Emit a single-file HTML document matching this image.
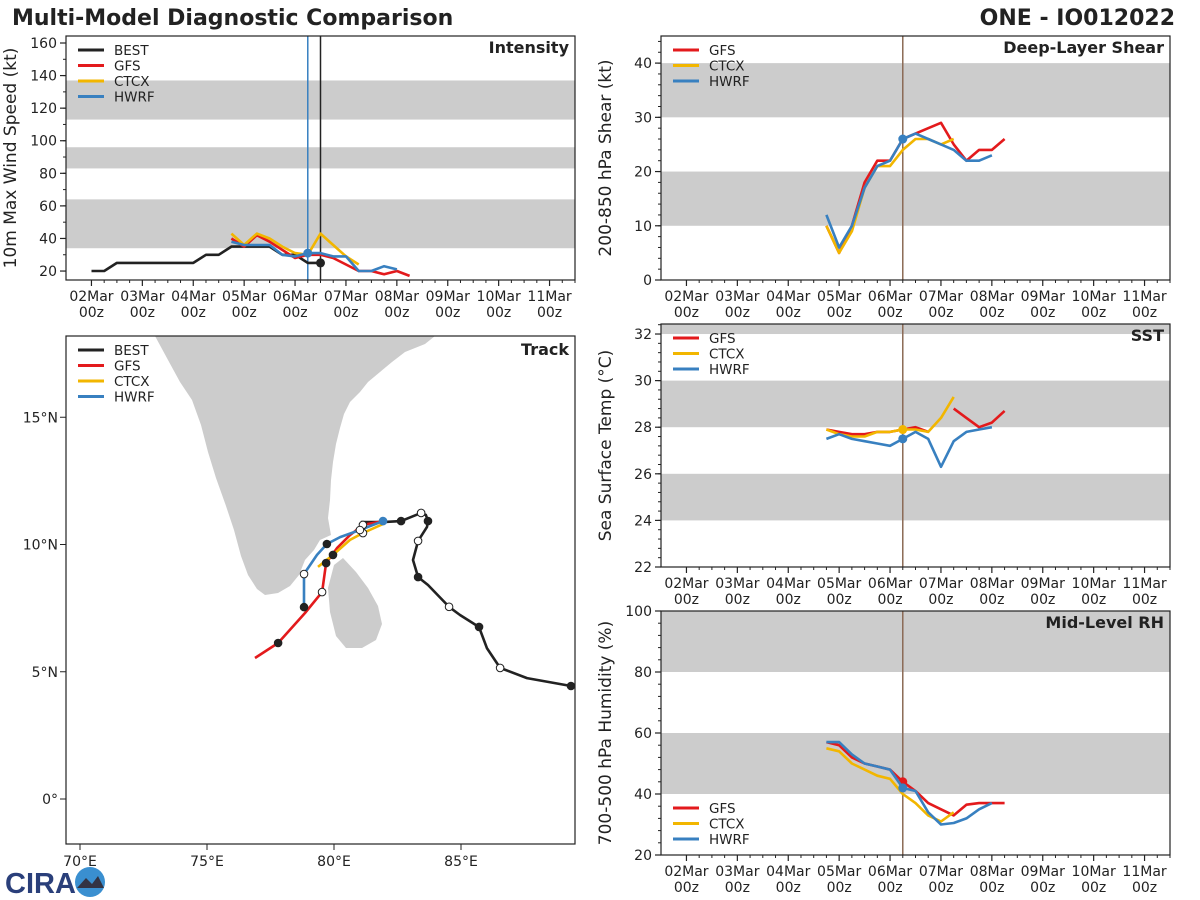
<!DOCTYPE html>
<html><head><meta charset="utf-8"><style>
body{margin:0;background:#fff}
svg{display:block;font-family:"DejaVu Sans","Liberation Sans",sans-serif}
</style></head><body>
<svg id="c" width="1200" height="900" xmlns="http://www.w3.org/2000/svg">
<text x="12" y="25" font-size="22" font-weight="bold" fill="#222">Multi-Model Diagnostic Comparison</text>
<text x="1175" y="25" font-size="22" font-weight="bold" fill="#222" text-anchor="end">ONE - IO012022</text>
<g>
<text x="5" y="893" font-size="29" font-weight="bold" fill="#2a3f7a" font-family="Liberation Sans">CIRA</text>
<circle cx="90" cy="882" r="15" fill="#3a8fd0"/>
<path d="M77 888 L86 878 L92 884 L98 876 L104 888 Z" fill="#334"/>
</g>
</svg>
<script>
const NS='http://www.w3.org/2000/svg';
const svg=document.getElementById('c');
const COL={BEST:'#222222',GFS:'#e31a1c',CTCX:'#f2b600',HWRF:'#3880c0'};
const dateLabels=['02Mar','03Mar','04Mar','05Mar','06Mar','07Mar','08Mar','09Mar','10Mar','11Mar'];
// Intensity (kt), 6-hourly index from 02Mar 00z
const intBestIdx=[0,1,2,3,4,5,6,7,8,9,10,11,12,13,14,15,16,17,18];
const intBest=[20,20,25,25,25,25,25,25,25,30,30,35,35,35,35,30,30,25,25];
const intGFS=[40,35,42,38,33,28,30,30,28,24,20,20,18,20,17];
const intCTCX=[43,36,43,40,35,31,30,43,36,29,24];
const intHWRF=[38,36,36,36,30,29,31,31,29,29,20,20,23,21];
const intTicks=[20,40,60,80,100,120,140,160];
// Shear (kt)
const shrGFS=[10,5,10,18,22,22,26,27,28,29,25,22,24,24,26];
const shrCTCX=[10,5,9,17,21,21,24,26,26,25,26];
const shrHWRF=[12,6,10,17,21,22,26,27,26,25,24,22,22,23];
const shrTicks=[0,10,20,30,40];
// SST (C)
const sstGFS=[27.9,27.8,27.7,27.7,27.8,27.8,27.9,28.0,27.8,null,28.8,28.4,28.0,28.2,28.7];
const sstCTCX=[27.9,27.7,27.6,27.6,27.8,27.8,27.9,27.9,27.8,28.4,29.3];
const sstHWRF=[27.5,27.7,27.5,27.4,27.3,27.2,27.5,27.8,27.5,26.3,27.4,27.8,27.9,28.0];
const sstTicks=[22,24,26,28,30,32];
// RH (%)
const rhGFS=[57,56,52,50,49,48,44,41,37,35,33,36.5,37,37,37];
const rhCTCX=[55,54,50,48,46,45,40,37,33,31,34];
const rhHWRF=[57,57,53,50,49,48,42,41,34,30,30.5,32,35,37];
const rhTicks=[20,40,60,80,100];
const modelStart=11;
// Track (lon, lat)
const bestLon=[89.33,87.60,86.54,86.02,85.71,84.96,84.53,83.70,83.31,83.11,83.31,83.66,83.70,83.62,83.43,82.64,81.93,81.06];
const bestLat=[4.44,4.75,5.15,5.93,6.76,7.23,7.55,8.41,8.72,9.39,10.14,10.69,10.92,11.16,11.24,10.92,10.88,10.88];
const bestMk=['f','','o','','f','','o','','f','','o','','f','','o','f','',''];
const gfsLon=[81.93,81.14,80.63,80.12,79.69,79.53,78.86,77.80,76.89];
const gfsLat=[10.92,10.77,10.37,9.86,9.27,8.13,7.31,6.13,5.54];
const gfsMk=['','o','','','k','o','','k',''];
const ctcxLon=[82.01,81.14,80.63,79.96,79.37];
const ctcxLat=[10.84,10.45,10.18,9.59,9.12];
const ctcxMk=['','o','','k',''];
const hwrfLon=[81.93,81.02,80.24,79.72,79.33,78.82,78.82];
const hwrfLat=[10.92,10.57,10.29,10.02,9.59,8.84,7.54];
const hwrfMk=['b','o','','k','','o','k'];
const lonTicks=[70,75,80,85];
const latTicks=[0,5,10,15];

function el(t,a,p){const e=document.createElementNS(NS,t);for(const k in a)e.setAttribute(k,a[k]);(p||svg).appendChild(e);return e;}
function txt(s,a,p){const e=el('text',a,p);e.textContent=s;return e;}

function panel(o){
  const g=el('g',{});
  
  
  const X=d=>o.x0+(d+0.5)/10*(o.x1-o.x0);
  const Y=v=>o.y1-(v-o.ymin)/(o.ymax-o.ymin)*(o.y1-o.y0);
  const cy=v=>Math.max(o.y0,Math.min(o.y1,Y(v)));
  o.bands.forEach(b=>{const r=el('rect',{x:o.x0,y:cy(b[1]),width:o.x1-o.x0,height:cy(b[0])-cy(b[1]),fill:'#cccccc'},g);
    
    });
  o.ticks.forEach(t=>{el('line',{x1:o.x0-6,x2:o.x0,y1:Y(t),y2:Y(t),stroke:'#222','stroke-width':1.2},g);
    const l=txt(String(t),{x:o.x0-9,y:Y(t)+5,'font-size':14,'text-anchor':'end',fill:'#222'},g);
    
    });
  const mstep=o.minor;let mv=Math.ceil(o.ymin/mstep)*mstep;
  for(;mv<=o.ymax+1e-9;mv+=mstep){el('line',{x1:o.x0-3,x2:o.x0,y1:Y(mv),y2:Y(mv),stroke:'#222','stroke-width':1},g);}
  dateLabels.forEach((d,i)=>{el('line',{x1:X(i),x2:X(i),y1:o.y1,y2:o.y1+6,stroke:'#222','stroke-width':1.2},g);
    const l=txt(d,{x:X(i),y:o.y1+21,'font-size':14,'text-anchor':'middle',fill:'#222'},g);
    
    
    const l2=txt('00z',{x:X(i),y:o.y1+37,'font-size':14,'text-anchor':'middle',fill:'#222'},g);
    
    
    for(let k=1;k<4;k++){if(i+k/4>9.5)break;el('line',{x1:X(i+k/4),x2:X(i+k/4),y1:o.y1,y2:o.y1+3,stroke:'#222'},g);}});
  (o.vlines||[]).forEach(v=>{const ln=el('line',{x1:X(v[0]),x2:X(v[0]),y1:o.y0,y2:o.y1,stroke:v[1],'stroke-width':1.5},g);
    
    });
  o.series.forEach(s=>{
    let d='',pen=false;
    s.vals.forEach((v,i)=>{if(v==null){pen=false;return;}const t=(s.idx?s.idx[i]:modelStart+i)/4;
      d+=(pen?'L':'M')+X(t).toFixed(1)+' '+Y(v).toFixed(1);pen=true;});
    const p=el('path',{d:d,fill:'none',stroke:COL[s.n],'stroke-width':2.6,'stroke-linejoin':'round'},g);
    
    
    if(s.dot!=null){const i=s.dot;const t=(s.idx?s.idx[i]:modelStart+i)/4;
      const c=el('circle',{cx:X(t),cy:Y(s.vals[i]),r:4.5,fill:COL[s.n]},g);
      
      }
  });
  el('rect',{x:o.x0,y:o.y0,width:o.x1-o.x0,height:o.y1-o.y0,fill:'none',stroke:'#222','stroke-width':1.2},g);
  const tl=txt(o.label,{x:o.x1-6,y:o.y0+17,'font-size':16,'font-weight':'bold','text-anchor':'end',fill:'#222'},g);
  
  
  const yl=txt(o.ytitle,{x:0,y:0,'font-size':17,'text-anchor':'middle',fill:'#222',transform:`translate(${o.x0-50},${(o.y0+o.y1)/2}) rotate(-90)`},g);
  
  
  legend(g,o.x0+12,o.legY,o.legNames);
}
function legend(g,x,y,names){
  names.forEach((n,i)=>{const gy=y+i*15.5;
    const l=el('line',{x1:x,x2:x+26,y1:gy,y2:gy,stroke:COL[n],'stroke-width':3},g);
    
    
    const t=txt(n,{x:x+36,y:gy+5,'font-size':13.5,fill:'#222'},g);
    
    });
}
const M=['GFS','CTCX','HWRF'];
panel({name:'intensity-panel',x0:66,x1:575,y0:36,y1:280,ymin:14.5,ymax:164.3,ticks:intTicks,minor:10,
  bands:[[34,64],[83,96],[113,137]],label:'Intensity',ytitle:'10m Max Wind Speed (kt)',legY:50,legNames:['BEST','GFS','CTCX','HWRF'],
  vlines:[[17/4,'#3880c0'],[18/4,'#222']],
  series:[{n:'BEST',vals:intBest,idx:intBestIdx,dot:18},{n:'GFS',vals:intGFS},{n:'CTCX',vals:intCTCX},{n:'HWRF',vals:intHWRF,dot:6}]});
panel({name:'shear-panel',x0:661,x1:1170,y0:36,y1:280,ymin:0,ymax:45,ticks:shrTicks,minor:2,
  bands:[[10,20],[30,40]],label:'Deep-Layer Shear',ytitle:'200-850 hPa Shear (kt)',legY:50,legNames:M,vlines:[[17/4,'#8b6a55']],
  series:[{n:'GFS',vals:shrGFS},{n:'CTCX',vals:shrCTCX},{n:'HWRF',vals:shrHWRF,dot:6}]});
panel({name:'sst-panel',x0:661,x1:1170,y0:324,y1:567,ymin:22,ymax:32.43,ticks:sstTicks,minor:0.4,
  bands:[[24,26],[28,30],[32,33]],label:'SST',ytitle:'Sea Surface Temp (°C)',legY:338,legNames:M,vlines:[[17/4,'#8b6a55']],
  series:[{n:'GFS',vals:sstGFS},{n:'CTCX',vals:sstCTCX,dot:6},{n:'HWRF',vals:sstHWRF,dot:6}]});
panel({name:'rh-panel',x0:661,x1:1170,y0:611,y1:855,ymin:20,ymax:100,ticks:rhTicks,minor:4,
  bands:[[40,60],[80,100]],label:'Mid-Level RH',ytitle:'700-500 hPa Humidity (%)',legY:808,legNames:M,vlines:[[17/4,'#8b6a55']],
  series:[{n:'GFS',vals:rhGFS,dot:6},{n:'CTCX',vals:rhCTCX},{n:'HWRF',vals:rhHWRF,dot:6}]});
</script>
<script>
(function(){
  const x0=66,x1=575,y0=336,y1=844;
  const LX=lon=>80+(lon-70)*25.4, LY=lat=>799-lat*25.45;
  const g=el('g',{});
  
  
  const india=el('path',{fill:'#cccccc',d:'M155 336 L435 336 L425 344 L405 352 L392 362 L380 372 L368 382 L360 392 L350 402 L344 414 L340 428 L336 444 L333 462 L331 480 L330 500 L328 518 L331 535 L320 540 L314 550 L305 560 L299 575 L290 586 L278 593 L265 595 L257 589 L248 575 L241 556 L234 530 L226 506 L216 478 L208 452 L201 425 L192 400 L180 382 L168 360 Z'},g);
  
  
  const sl=el('path',{fill:'#cccccc',d:'M334 565 L343 558 L356 572 L368 588 L378 606 L382 624 L376 640 L362 648 L346 648 L336 636 L330 612 L328 588 Z'},g);
  
  
  lonTicks.forEach(t=>{el('line',{x1:LX(t),x2:LX(t),y1:y1,y2:y1+6,stroke:'#222'},g);
    const l=txt(t+'°E',{x:LX(t),y:y1+22,'font-size':14,'text-anchor':'middle',fill:'#222'},g);
    
    });
  latTicks.forEach(t=>{el('line',{x1:x0-6,x2:x0,y1:LY(t),y2:LY(t),stroke:'#222'},g);
    const l=txt(t==0?'0°':t+'°N',{x:x0-8,y:LY(t)+5,'font-size':14,'text-anchor':'end',fill:'#222'},g);
    
    });
  function track(n,lo,la,mk){
    const d=lo.map((v,i)=>(i?'L':'M')+LX(v).toFixed(1)+' '+LY(la[i]).toFixed(1)).join('');
    const p=el('path',{d:d,fill:'none',stroke:COL[n],'stroke-width':2.6,'stroke-linejoin':'round'},g);
    
    
    return ()=>mk.forEach((m,i)=>{if(!m)return;
      const fill=m=='o'?'#fff':(m=='b'?COL.HWRF:'#222');const st=m=='b'?COL.HWRF:'#222';
      const c=el('circle',{cx:LX(lo[i]),cy:LY(la[i]),r:3.8,fill:fill,stroke:st,'stroke-width':1},g);
      
      });
  }
  const ms=[track('BEST',bestLon,bestLat,bestMk),track('GFS',gfsLon,gfsLat,gfsMk),track('CTCX',ctcxLon,ctcxLat,ctcxMk),track('HWRF',hwrfLon,hwrfLat,hwrfMk)];
  ms.forEach(f=>f());
  el('rect',{x:x0,y:y0,width:x1-x0,height:y1-y0,fill:'none',stroke:'#222','stroke-width':1.2},g);
  const tl=txt('Track',{x:x1-6,y:y0+19,'font-size':16,'font-weight':'bold','text-anchor':'end',fill:'#222'},g);
  
  
  legend(g,78,350,['BEST','GFS','CTCX','HWRF']);
})();
</script>
</body></html>
